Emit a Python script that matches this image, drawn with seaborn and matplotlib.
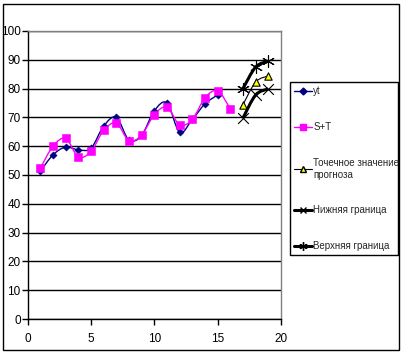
import numpy as np
import pandas as pd
import matplotlib
matplotlib.use('Agg')
import matplotlib.pyplot as plt
import seaborn as sns
from matplotlib.path import Path
from matplotlib.patches import PathPatch, Rectangle
from matplotlib.lines import Line2D

# данные ряда (t = 1..15), модель S+T (t = 1..16), прогноз (t = 17..19)
t_obs = [1, 2, 3, 4, 5, 6, 7, 8, 9, 10, 11, 12, 13, 14, 15]
yt = [51.3, 57.0, 59.7, 58.7, 59.3, 67.0, 70.0, 62.1, 63.8, 72.3, 75.0, 64.8, 69.3, 74.7, 77.8]
t_model = [1, 2, 3, 4, 5, 6, 7, 8, 9, 10, 11, 12, 13, 14, 15, 16]
s_t = [52.4, 60.0, 62.7, 56.3, 58.2, 65.5, 68.0, 61.9, 63.9, 71.0, 73.5, 67.4, 69.3, 76.8, 79.2, 73.0]
t_fc = [17, 18, 19]
forecast = [74.4, 82.3, 84.4]
lower = [69.8, 77.8, 79.9]
upper = [80.0, 87.5, 89.5]

labels = ['yt', 'S+T', 'Точечное значение\nпрогноза', 'Нижняя граница', 'Верхняя граница']

sns.set_style('white')
plt.rcParams['font.family'] = ['Liberation Sans', 'DejaVu Sans']

fig = plt.figure(figsize=(4.04, 3.55), dpi=100)
ax = fig.add_axes([0.0686, 0.1014, 0.6269, 0.8113])


def smooth_line(ax, x, y, color, lw):
    # сглаженная линия как в Excel (кривые Безье через точки)
    p = np.column_stack([x, y]).astype(float)
    ext = np.vstack([p[0], p, p[-1]])
    verts = [p[0]]
    codes = [Path.MOVETO]
    for i in range(len(p) - 1):
        c1 = ext[i + 1] + (ext[i + 2] - ext[i]) / 6
        c2 = ext[i + 2] - (ext[i + 3] - ext[i + 1]) / 6
        verts += [c1, c2, ext[i + 2]]
        codes += [Path.CURVE4] * 3
    ax.add_patch(PathPatch(Path(verts, codes), facecolor='none', edgecolor=color, lw=lw, zorder=2))


smooth_line(ax, t_obs, yt, '#000080', 1.0)
smooth_line(ax, t_model, s_t, '#FF00FF', 1.0)
smooth_line(ax, t_fc, forecast, 'black', 0.8)
smooth_line(ax, t_fc, lower, 'black', 2.2)
smooth_line(ax, t_fc, upper, 'black', 2.2)

sns.scatterplot(x=t_obs, y=yt, marker='D', s=14, color='#000080', edgecolor='#000080', ax=ax, zorder=3)
sns.scatterplot(x=t_model, y=s_t, marker='s', s=26, color='#FF00FF', edgecolor='#FF00FF', ax=ax, zorder=3)
sns.scatterplot(x=t_fc, y=forecast, marker='^', s=28, color='#FFFF00', edgecolor='black', linewidth=0.8, ax=ax, zorder=3)
sns.scatterplot(x=t_fc, y=lower, marker='x', s=60, color='black', linewidth=0.8, ax=ax, zorder=3)
sns.scatterplot(x=t_fc, y=upper, marker=(6, 2, 0), s=75, color='black', linewidth=0.8, ax=ax, zorder=3)

ax.set_xlim(0, 20)
ax.set_ylim(0, 100)
ax.set_xticks([0, 5, 10, 15, 20])
ax.set_yticks(range(0, 101, 10))
ax.yaxis.grid(True, color='black', lw=1.0)
ax.set_axisbelow(True)
ax.tick_params(axis='both', direction='out', length=4, width=1, color='black',
               labelsize=8.5, labelcolor='black', pad=1, left=True, bottom=True)
ax.tick_params(axis='x', pad=6)
ax.spines['left'].set_color('black')
ax.spines['bottom'].set_color('black')
ax.spines['top'].set_color('#808080')
ax.spines['right'].set_color('#808080')
for s in ax.spines.values():
    s.set_linewidth(1.0)

handles = [
    Line2D([], [], color='#000080', marker='D', markersize=3.5, lw=1.0),
    Line2D([], [], color='#FF00FF', marker='s', markersize=4.5, lw=1.0),
    Line2D([], [], color='black', marker='^', markersize=5, markerfacecolor='#FFFF00',
           markeredgecolor='black', lw=0.8),
    Line2D([], [], color='black', marker='x', markersize=5, lw=2.2),
    Line2D([], [], color='black', marker=(6, 2, 0), markersize=6, lw=2.2),
]
leg = fig.legend(handles, labels, loc='upper left',
                 bbox_to_anchor=(0.718, 0.769, 0.267, 0.0), mode='expand',
                 frameon=True, fancybox=False, edgecolor='black', framealpha=1,
                 fontsize=7, handlelength=1.8, handletextpad=0.15, labelspacing=2.65,
                 borderpad=0.45, borderaxespad=0)
leg.get_frame().set_linewidth(1.0)

fig.patches.append(Rectangle((3 / 404, 5 / 355), 396 / 404, 346 / 355, transform=fig.transFigure,
                             fill=False, edgecolor='black', lw=1.0))

fig.savefig('out.png', dpi=100)
